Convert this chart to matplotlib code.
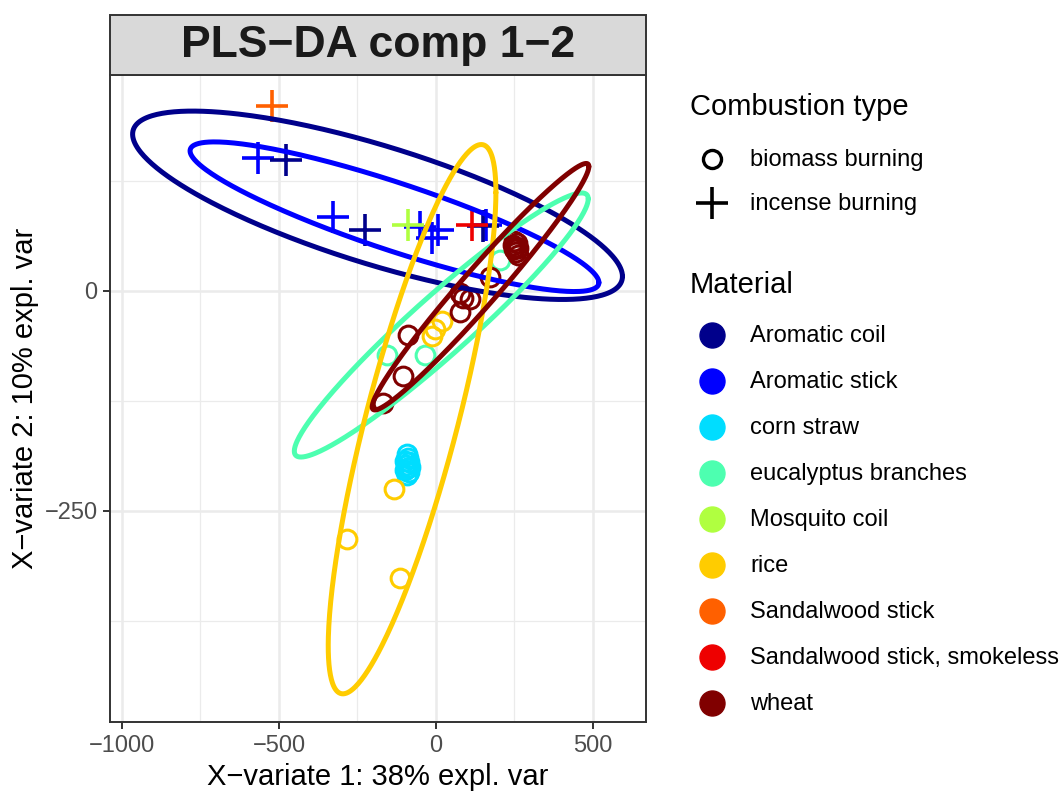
import numpy as np
import matplotlib
matplotlib.use("Agg")
import matplotlib.pyplot as plt
from matplotlib.lines import Line2D
from matplotlib.patches import Rectangle

plt.rcParams['font.family'] = ['Liberation Sans', 'DejaVu Sans']

# ---------------- data ----------------
materials = ["Aromatic coil", "Aromatic stick", "corn straw", "eucalyptus branches",
             "Mosquito coil", "rice", "Sandalwood stick", "Sandalwood stick, smokeless", "wheat"]
mat_colors = ["#00008B", "#0000FF", "#00DDFF", "#4DFFB0", "#B0FF40",
              "#FFCC00", "#FF6000", "#EE0000", "#800000"]
combustion_types = ["biomass burning", "incense burning"]

# incense burning (crosses)
aromatic_coil_x = [-478, -225, 150]
aromatic_coil_y = [148, 69, 73]
aromatic_stick_x = [-568, -327, -51, -14, 6, 160]
aromatic_stick_y = [151, 84, 72, 60, 69, 75]
mosquito_coil_x = [-88]
mosquito_coil_y = [75]
sandalwood_x = [-522]
sandalwood_y = [210]
sandalwood_smokeless_x = [114]
sandalwood_smokeless_y = [75]

# biomass burning (open circles)
corn_straw_x = [-93, -88, -86, -96, -91, -87, -92, -97, -84, -99]
corn_straw_y = [-186, -190, -195, -198, -202, -206, -209, -193, -200, -204]
eucalyptus_x = [-157, -35, 204]
eucalyptus_y = [-73, -73, 35]
rice_x = [-14, 18, -3, -134, -284, -115]
rice_y = [-52, -35, -44, -225, -282, -326]
wheat_x = [245, 250, 255, 260, 248, 262, 252, 258, 172, 87, 76, 76, 108, -88, -104, -168]
wheat_y = [52, 47, 44, 40, 56, 48, 50, 54, 15, -8, -3, -24, -10, -50, -97, -128]

# confidence ellipses: centre, half x-extent, half y-extent, correlation
ell_material = ["Aromatic coil", "Aromatic stick", "eucalyptus branches", "rice", "wheat"]
ell_cx = [-186, -132, 17, -76, 142]
ell_cy = [97, 84, -39, -146, 4.5]
ell_sx = [780, 651, 468, 267, 345]
ell_sy = [107, 85, 150, 312, 140]
ell_rho = [-0.755, -0.88, 0.955, 0.825, 0.975]

x_ticks = [-1000, -500, 0, 500]
y_ticks = [-250, 0]
x_minor = [-750, -250, 250]
y_minor = [-375, -125, 125]

title = "PLS\u2212DA comp 1\u22122"
xlabel = "X\u2212variate 1: 38% expl. var"
ylabel = "X\u2212variate 2: 10% expl. var"

# ---------------- figure ----------------
W, H = 1062, 793
fig = plt.figure(figsize=(W / 100, H / 100), dpi=100)
L, R, T, B = 110, 646, 75, 722
ax = fig.add_axes([L / W, 1 - B / H, (R - L) / W, (B - T) / H])
ax.set_xlim(-1038, 669)
ax.set_ylim(-490, 245)

grid_c = "#EBEBEB"
for v in x_ticks:
    ax.axvline(v, color=grid_c, lw=1.8, zorder=0)
for v in x_minor:
    ax.axvline(v, color=grid_c, lw=0.9, zorder=0)
for v in y_ticks:
    ax.axhline(v, color=grid_c, lw=1.8, zorder=0)
for v in y_minor:
    ax.axhline(v, color=grid_c, lw=0.9, zorder=0)

cmap = dict(zip(materials, mat_colors))

circ_kw = dict(marker='o', ms=13.5, mfc='none', mew=2.2, ls='none', zorder=3)
cross_kw = dict(marker='+', ms=23, mew=2.6, ls='none', zorder=3)

ax.plot(corn_straw_x, corn_straw_y, mec=cmap["corn straw"], **circ_kw)
ax.plot(eucalyptus_x, eucalyptus_y, mec=cmap["eucalyptus branches"], **circ_kw)
ax.plot(rice_x, rice_y, mec=cmap["rice"], **circ_kw)
ax.plot(wheat_x, wheat_y, mec=cmap["wheat"], **circ_kw)

ax.plot(aromatic_stick_x, aromatic_stick_y, mec=cmap["Aromatic stick"], **cross_kw)
ax.plot(aromatic_coil_x, aromatic_coil_y, mec=cmap["Aromatic coil"], **cross_kw)
ax.plot(mosquito_coil_x, mosquito_coil_y, mec=cmap["Mosquito coil"], **cross_kw)
ax.plot(sandalwood_x, sandalwood_y, mec=cmap["Sandalwood stick"], **cross_kw)
ax.plot(sandalwood_smokeless_x, sandalwood_smokeless_y, mec=cmap["Sandalwood stick, smokeless"], **cross_kw)

t = np.linspace(0, 2 * np.pi, 400)
for m, cx, cy, sx, sy, r in zip(ell_material, ell_cx, ell_cy, ell_sx, ell_sy, ell_rho):
    ex = cx + sx * np.cos(t)
    ey = cy + sy * (r * np.cos(t) + np.sqrt(1 - r * r) * np.sin(t))
    ax.plot(ex, ey, color=cmap[m], lw=3.6, zorder=4, solid_capstyle='round')

ax.set_xticks(x_ticks)
ax.set_yticks(y_ticks)
ax.set_xticklabels([str(v).replace('-', '\u2212') for v in x_ticks])
ax.set_yticklabels([str(v).replace('-', '\u2212') for v in y_ticks])
ax.tick_params(axis='both', length=5, width=1.4, color='#333333',
               labelsize=17, labelcolor='#4D4D4D', pad=4)
for s in ax.spines.values():
    s.set_color('#333333')
    s.set_linewidth(1.4)
ax.set_xlabel(xlabel, fontsize=21, color='black', labelpad=5)
ax.set_ylabel(ylabel, fontsize=21, color='black', labelpad=4)

# strip title
strip = Rectangle((L / W, 1 - T / H), (R - L) / W, 60 / H, transform=fig.transFigure,
                  facecolor='#D9D9D9', edgecolor='#333333', lw=1.4)
fig.add_artist(strip)
fig.text((L + R) / 2 / W, 1 - 46 / H, title, fontsize=32, fontweight='bold',
         color='#1A1A1A', ha='center', va='center')

# legends
def fx(px):
    return px / W

def fy(py):
    return 1 - py / H

fig.text(fx(690), fy(107), "Combustion type", fontsize=21, ha='left', va='center')
fig.add_artist(Line2D([fx(712)], [fy(159)], transform=fig.transFigure, marker='o', ms=13,
                      mfc='none', mec='black', mew=2.4, ls='none'))
fig.add_artist(Line2D([fx(712)], [fy(203)], transform=fig.transFigure, marker='+', ms=23,
                      mec='black', mew=2.6, ls='none'))
for i, lab in enumerate(combustion_types):
    fig.text(fx(750), fy(160 + 44 * i), lab, fontsize=17, ha='left', va='center')

fig.text(fx(690), fy(285), "Material", fontsize=21, ha='left', va='center')
for i, (m, c) in enumerate(zip(materials, mat_colors)):
    yy = 335 + 46 * i
    fig.add_artist(Line2D([fx(712)], [fy(yy)], transform=fig.transFigure, marker='o', ms=18,
                          mfc=c, mec=c, ls='none'))
    fig.text(fx(750), fy(yy + 1), m, fontsize=17, ha='left', va='center')

fig.savefig("out.png", dpi=100)
